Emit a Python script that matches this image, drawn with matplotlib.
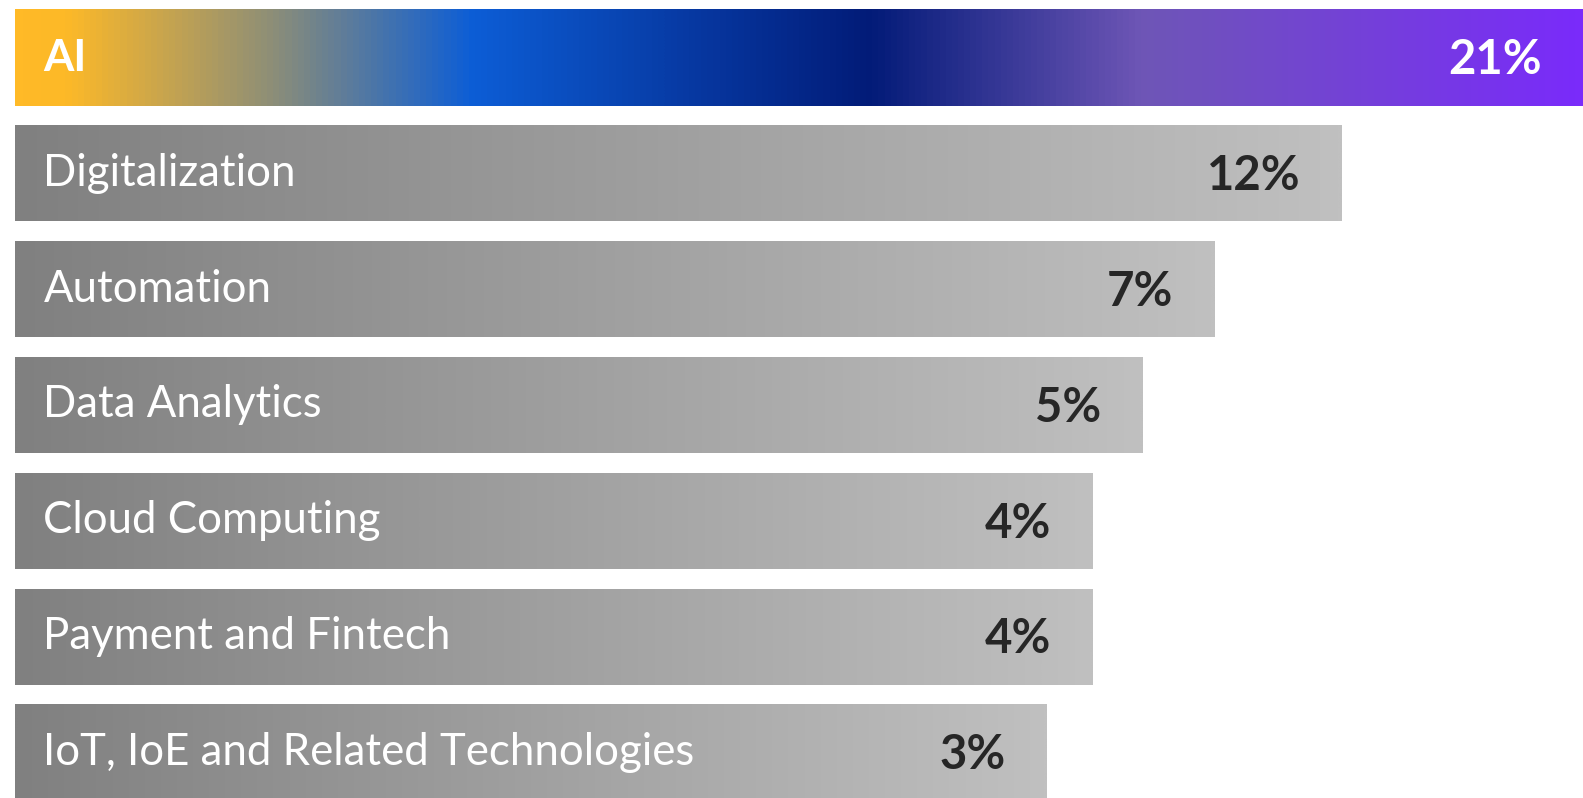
import numpy as np
import matplotlib.pyplot as plt
from matplotlib.colors import LinearSegmentedColormap

# datos
categorias = ['AI', 'Digitalization', 'Automation', 'Data Analytics',
              'Cloud Computing', 'Payment and Fintech', 'IoT, IoE and Related Technologies']
porcentajes = [21, 12, 7, 5, 4, 4, 3]
etiquetas = ['21%', '12%', '7%', '5%', '4%', '4%', '3%']
# largo de cada barra tal como se ve en la imagen (la barra de AI = 100)
largo_barra = [100, 84.6, 76.5, 71.9, 68.7, 68.7, 65.8]

gris = LinearSegmentedColormap.from_list('gris', ['#808080', '#c0c0c0'])
arcoiris = LinearSegmentedColormap.from_list('ai', [
    (0.0, '#ffba27'), (0.03, '#fdb928'), (0.16, '#8f8f76'), (0.29, '#0d5ed6'),
    (0.545, '#021b78'), (0.72, '#6e56b6'), (1.0, '#7a2bfa')])

fig = plt.figure(figsize=(15.83, 7.98), dpi=100)
ax = fig.add_axes([0, 0, 1, 1])
ax.set_xlim(-0.957, 100)
ax.set_ylim(6.394, -0.497)
ax.axis('off')

fuente = 'Lato'
pos = np.arange(len(categorias))
barras = ax.barh(pos, largo_barra, height=0.83, left=0, color='none', edgecolor='none')

grad = np.linspace(0, 1, 512).reshape(1, -1)
for i, b in enumerate(barras):
    cmap = arcoiris if i == 0 else gris
    x0, y0 = b.get_x(), b.get_y()
    w, h = b.get_width(), b.get_height()
    im = ax.imshow(grad, cmap=cmap, aspect='auto', extent=(x0, x0 + w, y0 + h, y0),
                   interpolation='bilinear', zorder=1)
    im.set_clip_path(b)

    ax.annotate(categorias[i], (0, pos[i]), xytext=(20.5, 0), textcoords='offset points',
                ha='left', va='center', color='white', fontsize=31.5, family=fuente,
                fontweight='bold' if i == 0 else 'normal', zorder=3)
    ax.annotate(etiquetas[i], (largo_barra[i], pos[i]), xytext=(-29.8, -2), textcoords='offset points',
                ha='right', va='center', color='white' if i == 0 else '#262626',
                fontsize=34, family=fuente, fontweight='bold', zorder=3)

ax.set_xlim(-0.957, 100)
ax.set_ylim(6.394, -0.497)
fig.savefig('out.png', dpi=100)
